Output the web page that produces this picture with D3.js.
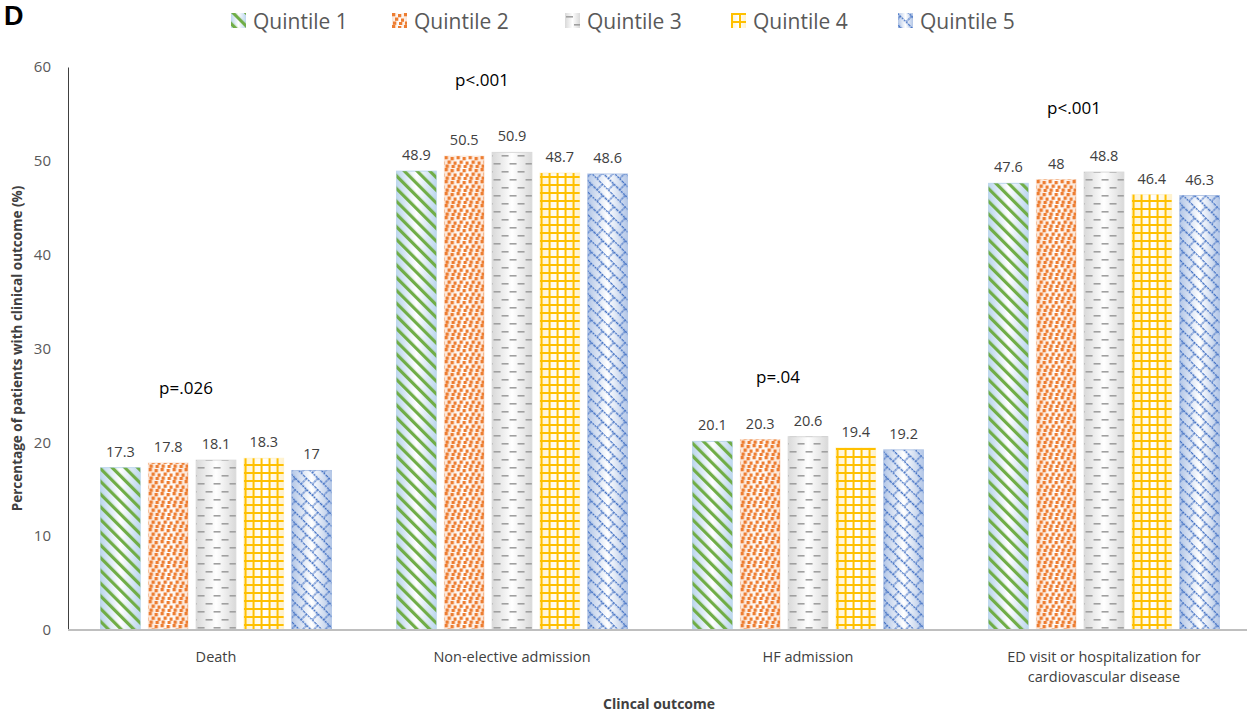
<!DOCTYPE html>
<html>
<head>
<meta charset="utf-8">
<script src="https://cdn.jsdelivr.net/npm/d3@7"></script>
<style>
  body { margin: 0; background: #fff; }
  text { font-family: "Open Sans", "Noto Sans", sans-serif; }
</style>
</head>
<body>
<div id="chart"></div>
<script>
const categories = ["Death", "Non-elective admission", "HF admission", "ED visit or hospitalization for cardiovascular disease"];
const categoryLines = [["Death"], ["Non-elective admission"], ["HF admission"], ["ED visit or hospitalization for", "cardiovascular disease"]];
const series = ["Quintile 1", "Quintile 2", "Quintile 3", "Quintile 4", "Quintile 5"];
const q1 = [17.3, 48.9, 20.1, 47.6];
const q2 = [17.8, 50.5, 20.3, 48];
const q3 = [18.1, 50.9, 20.6, 48.8];
const q4 = [18.3, 48.7, 19.4, 46.4];
const q5 = [17, 48.6, 19.2, 46.3];
const pValues = ["p=.026", "p<.001", "p=.04", "p<.001"];
const pHeights = [25.1, 58, 26.3, 55];
const yTicks = [0, 10, 20, 30, 40, 50, 60];

const values = [q1, q2, q3, q4, q5];
const colors = ["#70AD47", "#ED7D31", "#A5A5A5", "#FFC000", "#4472C4"];
const tints = ["#BDD7EE", "#FBE5D6", "#D9D9D9", "#FFF2CC", "#B4C7E7"];

const width = 1247, height = 716;
const margin = {top: 67, right: 0, bottom: 86, left: 68};

const svg = d3.select("#chart").append("svg")
    .attr("width", width)
    .attr("height", height);

const defs = svg.append("defs");

// background gradients, pale at the edges, white in the middle
tints.forEach((t, i) => {
    const g = defs.append("linearGradient").attr("id", "grad" + i)
        .attr("x1", "0").attr("x2", "1").attr("y1", "0").attr("y2", "0");
    g.append("stop").attr("offset", "0").attr("stop-color", t);
    g.append("stop").attr("offset", "0.5").attr("stop-color", "#fff");
    g.append("stop").attr("offset", "1").attr("stop-color", t);
});

// Q1 wide diagonal stripes
let p = defs.append("pattern").attr("id", "pat0").attr("patternUnits", "userSpaceOnUse")
    .attr("width", 9).attr("height", 9).attr("patternTransform", "rotate(-45)");
p.append("rect").attr("x", 0).attr("y", 0).attr("width", 3.2).attr("height", 9).attr("fill", colors[0]);

// Q2 scattered small squares
p = defs.append("pattern").attr("id", "pat1").attr("patternUnits", "userSpaceOnUse")
    .attr("width", 12).attr("height", 12);
[[0, 0], [6, 1], [3, 4.5], [9, 5.5], [1, 8.5], [7, 9]].forEach(([x, y]) => {
    p.append("rect").attr("x", x).attr("y", y).attr("width", 3.3).attr("height", 3.3).attr("fill", colors[1]);
});

// Q3 horizontal dashes
p = defs.append("pattern").attr("id", "pat2").attr("patternUnits", "userSpaceOnUse")
    .attr("width", 16).attr("height", 16);
p.append("rect").attr("x", 1).attr("y", 3).attr("width", 7).attr("height", 1.6).attr("fill", "#A0A0A0");
p.append("rect").attr("x", 9).attr("y", 11).attr("width", 7).attr("height", 1.6).attr("fill", "#A0A0A0");

// Q4 grid
p = defs.append("pattern").attr("id", "pat3").attr("patternUnits", "userSpaceOnUse")
    .attr("width", 8).attr("height", 8);
p.append("rect").attr("x", 0).attr("y", 0).attr("width", 2).attr("height", 8).attr("fill", colors[3]);
p.append("rect").attr("x", 0).attr("y", 0).attr("width", 8).attr("height", 2).attr("fill", colors[3]);

// Q5 diagonal weave
p = defs.append("pattern").attr("id", "pat4").attr("patternUnits", "userSpaceOnUse")
    .attr("width", 16).attr("height", 16).attr("patternTransform", "rotate(45)");
p.append("path")
    .attr("d", "M0,0.5H16M0,8.5H16M4,0.5V8.5M12,8.5V16.5")
    .attr("stroke", colors[4]).attr("stroke-width", 1.3).attr("stroke-dasharray", "2.2,0.8")
    .attr("fill", "none");

const x0 = d3.scaleBand()
    .domain(categories)
    .range([margin.left, 1252])
    .paddingInner(0.22)
    .paddingOuter(0.11);

const x1 = d3.scaleBand()
    .domain(series)
    .range([0, x0.bandwidth()])
    .paddingInner(0.17);

const y = d3.scaleLinear()
    .domain([0, 60])
    .range([630, margin.top]);

// y axis
const yAxis = svg.append("g")
    .attr("transform", `translate(${margin.left},0)`)
    .call(d3.axisLeft(y).tickValues(yTicks).tickSize(0).tickPadding(17));
yAxis.select(".domain").attr("stroke", "#404040").attr("stroke-width", 1);
yAxis.selectAll("text").attr("font-size", 15).attr("fill", "#595959");

// bars
const groups = svg.append("g").selectAll("g")
    .data(categories)
    .join("g")
    .attr("transform", d => `translate(${x0(d)},0)`);

series.forEach((s, si) => {
    groups.append("rect")
        .attr("x", x1(s))
        .attr("y", (d, ci) => y(values[si][ci]))
        .attr("width", x1.bandwidth())
        .attr("height", (d, ci) => y(0) - y(values[si][ci]))
        .attr("fill", `url(#grad${si})`)
        .attr("stroke", tints[si])
        .attr("stroke-width", 1);
    groups.append("rect")
        .attr("x", x1(s))
        .attr("y", (d, ci) => y(values[si][ci]))
        .attr("width", x1.bandwidth())
        .attr("height", (d, ci) => y(0) - y(values[si][ci]))
        .attr("fill", `url(#pat${si})`);
    groups.append("text")
        .attr("x", x1(s) + x1.bandwidth() / 2)
        .attr("y", (d, ci) => y(values[si][ci]) - 11)
        .attr("text-anchor", "middle")
        .attr("font-size", 14.5)
        .attr("fill", "#404040")
        .text((d, ci) => values[si][ci]);
});

// p values
groups.append("text")
    .attr("x", x0.bandwidth() / 2 - 30)
    .attr("y", (d, ci) => y(pHeights[ci]))
    .attr("text-anchor", "middle")
    .attr("font-size", 17)
    .attr("fill", "#000")
    .text((d, ci) => pValues[ci]);

// baseline
svg.append("line")
    .attr("x1", margin.left).attr("x2", 1247)
    .attr("y1", y(0)).attr("y2", y(0))
    .attr("stroke", "#BFBFBF").attr("stroke-width", 2);

// category labels
groups.each(function(d, ci) {
    const t = d3.select(this).append("text")
        .attr("text-anchor", "middle")
        .attr("font-size", 14.5)
        .attr("fill", "#404040");
    categoryLines[ci].forEach((line, li) => {
        t.append("tspan")
            .attr("x", x0.bandwidth() / 2)
            .attr("y", 662 + li * 20)
            .text(line);
    });
});

// axis titles
svg.append("text")
    .attr("x", 659).attr("y", 709)
    .attr("text-anchor", "middle")
    .attr("font-size", 14).attr("font-weight", "bold").attr("fill", "#404040")
    .text("Clincal outcome");

svg.append("text")
    .attr("transform", `translate(22,${(y(0) + y(60)) / 2}) rotate(-90)`)
    .attr("text-anchor", "middle")
    .attr("font-size", 13.5).attr("font-weight", "bold").attr("fill", "#404040")
    .text("Percentage of patients with clinical outcome (%)");

// panel letter
svg.append("text")
    .attr("x", 4).attr("y", 25)
    .attr("font-size", 27).attr("font-weight", "bold").attr("fill", "#000")
    .style("font-family", "Arial, 'Liberation Sans', sans-serif")
    .text("D");

// legend
const legendX = [231, 392, 565, 731, 898];
const legend = svg.append("g").selectAll("g")
    .data(series)
    .join("g")
    .attr("transform", (d, i) => `translate(${legendX[i]},13)`);
legend.append("rect").attr("width", 15).attr("height", 15)
    .attr("fill", (d, i) => `url(#grad${i})`);
legend.append("rect").attr("width", 15).attr("height", 15)
    .attr("fill", (d, i) => `url(#pat${i})`);
legend.append("text")
    .attr("x", 22).attr("y", 16)
    .attr("font-size", 21)
    .attr("fill", "#595959")
    .text(d => d);
</script>
</body>
</html>
